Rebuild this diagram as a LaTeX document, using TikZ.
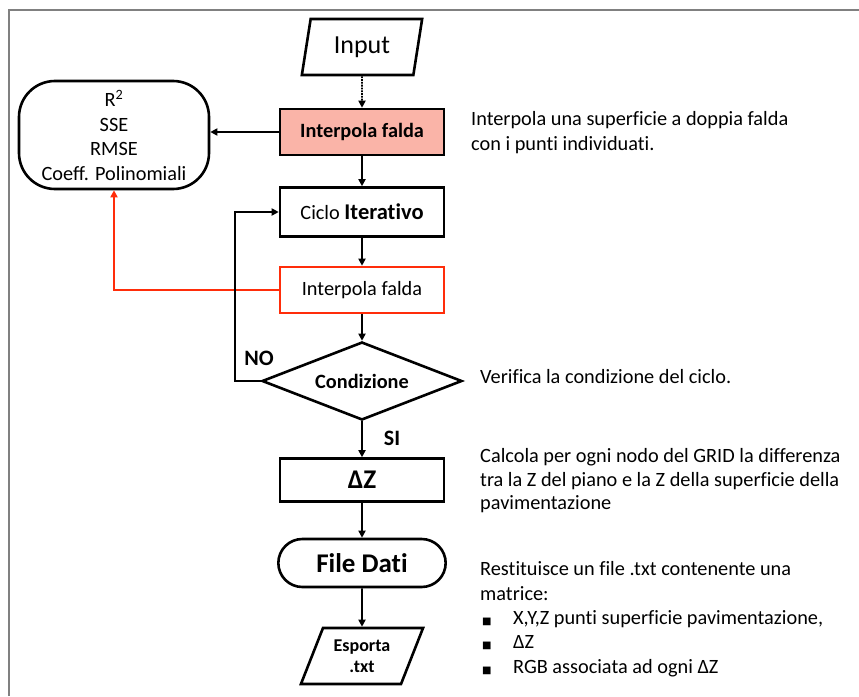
\documentclass[tikz,border=0pt]{standalone}
\usepackage{fontspec}
\setmainfont{Carlito}[Ligatures=NoCommon]
\newfontfamily\symfont{DejaVu Sans}
\usepackage{tikz}
\usetikzlibrary{shapes.geometric,shapes.misc,arrows.meta}

\definecolor{salmone}{RGB}{250,180,168}
\definecolor{rosso}{RGB}{255,45,10}
\definecolor{cornice}{RGB}{128,128,128}

\tikzset{
  blocco/.style={draw=black, line width=2.6pt, minimum width=164pt, minimum height=46pt, inner sep=0pt, font=\fontsize{20.3}{24}\selectfont},
  datiio/.style={draw=black, line width=2.6pt, trapezium, trapezium stretches=true, inner sep=0pt},
  freccia/.style={line width=1.8pt, -{Triangle[length=7pt,width=7pt]}},
  nota/.style={anchor=base west, inner sep=0pt, font=\fontsize{20.3}{24}\selectfont},
  etichetta/.style={inner sep=0pt, font=\bfseries\fontsize{22}{24}\selectfont}
}

\begin{document}
\begin{tikzpicture}[x=1pt,y=-1pt]
  \useasboundingbox (0,0) rectangle (859,696);
  \draw[cornice, line width=2pt] (9,696) -- (9,10) -- (859,10);

  \node[datiio, trapezium left angle=77, trapezium right angle=103, minimum width=121pt, minimum height=56pt, font=\fontsize{26}{28}\selectfont] (input) at (362,47) {Input};
  \node[blocco, fill=salmone, font=\bfseries\fontsize{20.3}{24}\selectfont] (falda) at (362,132) {Interpola falda};
  \node[blocco, minimum height=49pt] (ciclo) at (362,212) {Ciclo {\bfseries\fontsize{22.5}{24}\selectfont Iterativo}};
  \node[blocco, draw=rosso, minimum height=46pt] (faldaciclo) at (362,290) {Interpola falda};
  \node[draw, diamond, aspect=2.5, line width=2.6pt, minimum width=200pt, minimum height=78pt, inner sep=0pt, font=\bfseries\fontsize{20.3}{24}\selectfont] (cond) at (362,381) {Condizione};
  \node[blocco, minimum height=43pt, font=\bfseries\fontsize{27}{29}\selectfont] (dz) at (362,480) {ΔZ};
  \node[draw, rounded rectangle, line width=2.6pt, minimum width=174pt, minimum height=48pt, font=\bfseries\fontsize{27}{29}\selectfont] (file) at (362,563) {File Dati};
  \node[datiio, trapezium left angle=64, trapezium right angle=116, minimum width=123pt, minimum height=56pt, align=center, font=\bfseries\fontsize{18}{21}\selectfont] (esporta) at (362,656) {Esporta\\ .txt};
  \node[draw, line width=2.6pt, rounded corners=36pt, minimum width=190pt, minimum height=108pt, align=center, font=\fontsize{20.3}{24.5}\selectfont] (stats) at (114,135) {R\textsuperscript{2}\\SSE\\RMSE\\Coeff. Polinomiali};

  \draw[freccia, densely dotted] (input.south) -- (falda.north);
  \draw[freccia] (falda) -- (ciclo);
  \draw[freccia] (ciclo) -- (faldaciclo);
  \draw[freccia] (faldaciclo) -- (cond);
  \draw[freccia] (cond) -- (dz);
  \draw[freccia] (dz) -- (file);
  \draw[freccia] (file) -- (esporta);
  \draw[freccia] (falda.west) -- (falda.west -| stats.east);
  \draw[freccia, draw=rosso] (faldaciclo.west) -| (stats.south);
  \coordinate (ritorno) at (235,381);
  \draw[freccia] (cond.west) -- (ritorno) |- (ciclo.west);

  \node[etichetta] (no) at (259,358) {NO};
  \node[etichetta] (si) at (392,438) {SI};

  \node[nota] (t1a) at (471,125) {Interpola una superficie a doppia falda};
  \node[nota] (t1b) at (471,150) {con i punti individuati.};
  \node[nota] (t2) at (480,383) {Verifica la condizione del ciclo.};
  \foreach \yy/\riga in {462/Calcola per ogni nodo del GRID la differenza,486/tra la Z del piano e la Z della superficie della,509/pavimentazione}
    \node[nota] (t3\yy) at (480,\yy) {\riga};
  \node[nota] (t4a) at (480,575) {Restituisce un file .txt contenente una};
  \node[nota] (t4b) at (480,600) {matrice:};
  \foreach \yy/\riga in {624/{X,Y,Z punti superficie pavimentazione,},648/ΔZ,673/RGB associata ad ogni ΔZ}{
    \node[nota, font=\symfont\fontsize{10}{12}\selectfont] (b\yy) at (482,\yy) {■};
    \node[nota] (v\yy) at (513,\yy) {\riga};
  }
\end{tikzpicture}
\end{document}
